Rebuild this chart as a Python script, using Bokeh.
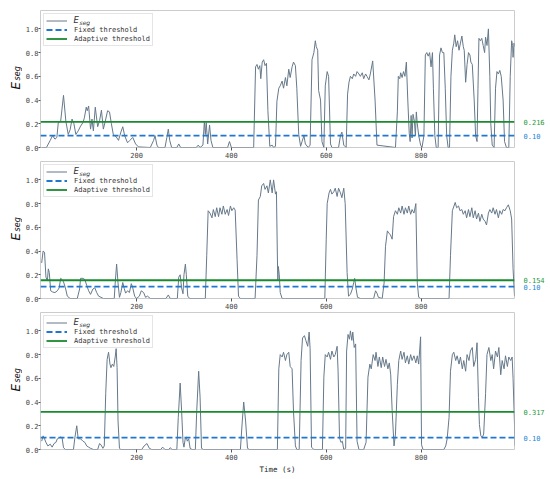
import math
from bokeh.plotting import figure
from bokeh.models import FixedTicker, PrintfTickFormatter, Legend, LegendItem, Label, Range1d
from bokeh.core.properties import value
from bokeh.layouts import column, row
from bokeh.embed import file_html
from bokeh.resources import INLINE

# ---------------- data ----------------
X_START, X_END = -2.5, 997
Y_START, Y_END = 0, 1.155
X_TICKS = [200, 400, 600, 800]
Y_TICKS = [0.0, 0.2, 0.4, 0.6, 0.8, 1.0]

FIXED_THR = 0.10
FIXED_LABEL = "0.10"
ADAPT_THR = [0.216, 0.154, 0.317]
ADAPT_LABELS = ["0.216", "0.154", "0.317"]

T1 = [0, 10, 18, 23, 28, 32, 35, 40, 46, 51, 56, 60, 64, 68, 72, 77, 82, 87, 90, 94, 96, 99,
      103, 106, 109, 113, 118, 122, 126, 130, 134, 139, 143, 147, 151, 157, 162, 167, 171, 175,
      181, 186, 192, 198, 204, 229, 236, 239, 243, 246, 260, 264, 267, 270, 274, 285, 289, 293,
      326, 330, 334, 340, 343, 345, 347, 350, 354, 357, 361, 392, 396, 400, 447, 451, 454, 457,
      460, 462, 465, 468, 471, 474, 477, 481, 486, 489, 493, 496, 500, 503, 507, 510, 514, 517,
      521, 524, 528, 531, 535, 538, 542, 546, 549, 553, 556, 562, 566, 570, 574, 577, 579, 582,
      584, 588, 591, 595, 598, 602, 605, 609, 612, 626, 630, 633, 637, 642, 645, 648, 651, 655,
      658, 662, 665, 669, 672, 676, 679, 683, 686, 690, 693, 698, 703, 707, 746, 750, 752, 755,
      757, 760, 763, 766, 769, 772, 775, 777, 779, 781, 783, 786, 788, 790, 792, 795, 799, 802,
      806, 809, 812, 815, 818, 821, 824, 826, 829, 832, 836, 839, 842, 845, 848, 851, 854, 857,
      860, 863, 866, 869, 871, 874, 877, 880, 883, 886, 889, 891, 894, 897, 900, 903, 905, 908,
      912, 915, 918, 920, 922, 925, 928, 931, 934, 936, 939, 942, 945, 947, 950, 954, 957, 960,
      963, 966, 969, 973, 976, 980, 985, 988, 991, 993, 994, 996, 998]
V1 = [0, 0, 0.06, 0.10, 0.07, 0.085, 0.21, 0.22, 0.44, 0.22, 0.11, 0.15, 0.24, 0.20, 0.11, 0.14,
      0.18, 0.21, 0.25, 0.34, 0.31, 0.35, 0.155, 0.24, 0.14, 0.34, 0.175, 0.225, 0.315, 0.155,
      0.22, 0.31, 0.30, 0.20, 0.11, 0.09, 0.06, 0.13, 0.175, 0.10, 0.04, 0.06, 0.085, 0.03, 0.005,
      0, 0.06, 0.10, 0.02, 0, 0, 0.085, 0.155, 0.06, 0, 0, 0.03, 0, 0, 0.02, 0, 0.02, 0.22, 0.11,
      0.21, 0.03, 0.19, 0.06, 0, 0, 0.05, 0, 0, 0.68, 0.70, 0.66, 0.69, 0.58, 0.72, 0.74, 0.69,
      0.71, 0.31, 0.01, 0.02, 0, 0.01, 0.39, 0.50, 0.52, 0.56, 0.50, 0.59, 0.52, 0.66, 0.59, 0.68,
      0.72, 0.69, 0.50, 0.11, 0.01, 0.05, 0.10, 0.03, 0, 0.02, 0.74, 0.80, 0.90, 0.85, 0.82, 0.48,
      0.40, 0.05, 0, 0.52, 0.64, 0.60, 0.03, 0, 0, 0.10, 0.13, 0.02, 0, 0.45, 0.55, 0.60, 0.58,
      0.62, 0.60, 0.64, 0.62, 0.60, 0.63, 0.58, 0.62, 0.60, 0.57, 0.62, 0.73, 0.40, 0.02, 0, 0.30,
      0.60, 0.58, 0.63, 0.59, 0.64, 0.60, 0.72, 0.40, 0.12, 0.05, 0.27, 0.08, 0.28, 0.22, 0.10,
      0.30, 0.20, 0.10, 0.02, 0, 0.10, 0.78, 0.80, 0.77, 0.80, 0.68, 0.80, 0.50, 0.10, 0, 0, 0.78,
      0.84, 0.80, 0.80, 0.50, 0.10, 0, 0, 0.60, 0.82, 0.88, 0.95, 0.85, 0.90, 0.82, 0.88, 0.94,
      0.85, 0.82, 0.55, 0.70, 0.80, 0.78, 0.72, 0.70, 0.40, 0.10, 0.05, 0.50, 0.92, 0.90, 0.92,
      0.86, 0.80, 0.93, 0.86, 1.00, 0.60, 0.20, 0.02, 0, 0.50, 0.64, 0.62, 0.65, 0.60, 0.40, 0.05,
      0, 0, 0.60, 0.90, 0.86, 0.76, 0.88, 0.85]

T2 = [0, 3, 6, 9, 12, 14, 16, 19, 23, 28, 33, 37, 40, 43, 46, 50, 54, 60, 75, 80, 82, 87, 91,
      95, 99, 103, 108, 112, 116, 120, 125, 130, 153, 155, 158, 161, 164, 167, 171, 174, 177,
      181, 185, 189, 192, 196, 200, 206, 210, 215, 219, 223, 229, 262, 267, 271, 286, 289, 292,
      295, 298, 300, 303, 305, 308, 312, 345, 348, 351, 355, 359, 362, 366, 369, 373, 376, 380,
      383, 387, 391, 394, 398, 401, 405, 408, 412, 415, 419, 450, 454, 457, 461, 464, 468, 471,
      475, 478, 482, 486, 489, 493, 495, 497, 498, 499, 501, 503, 507, 597, 600, 602, 606, 609,
      612, 616, 619, 623, 626, 630, 633, 637, 640, 644, 647, 651, 655, 658, 660, 663, 666, 672,
      700, 704, 707, 710, 718, 722, 725, 729, 732, 735, 739, 742, 746, 750, 753, 757, 760, 764,
      767, 771, 774, 778, 781, 785, 789, 792, 795, 799, 859, 862, 866, 872, 875, 879, 882, 886,
      889, 893, 896, 900, 903, 907, 910, 914, 917, 921, 924, 928, 931, 935, 938, 942, 945, 949,
      952, 956, 959, 963, 966, 970, 973, 977, 980, 984, 988, 991, 994, 997]
V2 = [0.30, 0.40, 0.39, 0.18, 0.15, 0.25, 0.22, 0.065, 0.055, 0.05, 0.065, 0.09, 0.17, 0.16,
      0.14, 0.09, 0.02, 0, 0, 0.08, 0.17, 0.17, 0.16, 0.11, 0.065, 0.035, 0.08, 0.09, 0.05, 0.02,
      0.01, 0, 0, 0.13, 0.29, 0.13, 0.01, 0.05, 0.135, 0.085, 0.045, 0.065, 0.05, 0.125, 0.09,
      0.02, 0, 0.02, 0.065, 0.05, 0.01, 0.02, 0, 0, 0.03, 0, 0, 0.18, 0.20, 0.09, 0.04, 0.20,
      0.29, 0.20, 0.02, 0, 0, 0.36, 0.74, 0.72, 0.68, 0.75, 0.69, 0.765, 0.69, 0.765, 0.71, 0.78,
      0.71, 0.75, 0.70, 0.78, 0.74, 0.765, 0.745, 0.33, 0.02, 0, 0, 0.36, 0.83, 0.86, 0.95, 0.97,
      0.92, 0.95, 0.89, 1.00, 0.89, 1.00, 0.88, 0.90, 0.35, 0.15, 0.27, 0.20, 0.05, 0, 0, 0.50,
      0.80, 0.89, 0.92, 0.88, 0.90, 0.93, 0.86, 0.93, 0.89, 0.85, 0.93, 0.80, 0.22, 0.02, 0.035,
      0.08, 0.135, 0.17, 0.08, 0.01, 0, 0, 0.065, 0.045, 0.01, 0, 0.13, 0.44, 0.57, 0.55, 0.54,
      0.50, 0.69, 0.74, 0.71, 0.765, 0.72, 0.78, 0.71, 0.765, 0.72, 0.78, 0.71, 0.75, 0.72, 0.80,
      0.13, 0.01, 0, 0, 0.36, 0.74, 0.81, 0.765, 0.78, 0.74, 0.75, 0.71, 0.74, 0.68, 0.75, 0.69,
      0.765, 0.68, 0.74, 0.67, 0.72, 0.65, 0.71, 0.67, 0.65, 0.62, 0.72, 0.75, 0.72, 0.765, 0.71,
      0.75, 0.68, 0.74, 0.71, 0.75, 0.74, 0.765, 0.79, 0.74, 0.67, 0.25, 0.02]

T3 = [0, 3, 6, 9, 13, 18, 22, 26, 30, 33, 37, 40, 43, 46, 50, 67, 70, 74, 77, 82, 87, 91, 95,
      99, 103, 109, 118, 122, 125, 129, 132, 135, 138, 141, 144, 146, 149, 152, 155, 157, 159,
      161, 164, 167, 211, 216, 222, 227, 232, 251, 255, 260, 268, 271, 275, 285, 288, 292, 295,
      298, 300, 303, 305, 307, 310, 313, 317, 324, 327, 331, 334, 337, 341, 419, 423, 426, 430,
      434, 438, 497, 500, 503, 507, 510, 514, 517, 521, 524, 528, 531, 535, 538, 543, 547, 550,
      554, 557, 561, 564, 566, 569, 574, 592, 595, 598, 602, 605, 609, 612, 616, 619, 623, 625,
      628, 631, 634, 637, 641, 643, 646, 649, 651, 654, 656, 659, 662, 665, 669, 679, 684, 688,
      692, 695, 699, 703, 705, 709, 712, 716, 719, 723, 726, 730, 733, 736, 739, 743, 746, 750,
      753, 757, 760, 764, 767, 771, 774, 778, 781, 785, 789, 792, 795, 799, 801, 804, 809, 848,
      852, 855, 859, 862, 866, 869, 873, 876, 880, 883, 887, 890, 894, 897, 901, 904, 908, 911,
      915, 918, 921, 923, 926, 929, 932, 936, 939, 943, 947, 950, 953, 957, 961, 964, 968, 971,
      975, 978, 982, 985, 989, 992, 994, 997, 998]
V3 = [0.07, 0.115, 0.09, 0.06, 0.03, 0.045, 0.02, 0.05, 0.06, 0.09, 0.10, 0.105, 0.10, 0.015,
      0, 0, 0.10, 0.20, 0.09, 0.09, 0.07, 0.06, 0.03, 0.02, 0.01, 0, 0, 0.05, 0.04, 0.01, 0.03,
      0.47, 0.76, 0.82, 0.72, 0.69, 0.72, 0.70, 0.78, 0.85, 0.69, 0.24, 0.01, 0, 0, 0.03, 0.05,
      0.01, 0, 0, 0.02, 0, 0, 0.015, 0, 0, 0.27, 0.56, 0.33, 0.06, 0.02, 0.10, 0.105, 0.07, 0.09,
      0.01, 0, 0, 0.33, 0.66, 0.44, 0.01, 0, 0, 0.24, 0.40, 0.24, 0.01, 0, 0, 0.68, 0.80, 0.78,
      0.82, 0.75, 0.80, 0.82, 0.70, 0.68, 0.32, 0.03, 0, 0, 0.75, 0.94, 0.96, 0.92, 0.87, 0.99,
      0.85, 0.02, 0, 0, 0.61, 0.80, 0.78, 0.82, 0.76, 0.83, 0.78, 0.80, 0.87, 0.66, 0.10, 0.06,
      0.07, 0, 0.01, 0.83, 0.97, 0.93, 1.00, 0.92, 0.99, 0.86, 0.89, 0.07, 0, 0, 0.06, 0.61, 0.72,
      0.68, 0.80, 0.75, 0.82, 0.70, 0.78, 0.69, 0.78, 0.70, 0.76, 0.68, 0.73, 0.63, 0.33, 0.03,
      0.13, 0.55, 0.75, 0.83, 0.76, 0.82, 0.73, 0.79, 0.72, 0.80, 0.75, 0.79, 0.73, 0.79, 0.72,
      0.95, 0.04, 0, 0, 0, 0.03, 0.09, 0.27, 0.66, 0.80, 0.82, 0.75, 0.79, 0.72, 0.78, 0.68, 0.75,
      0.66, 0.80, 0.75, 0.83, 0.86, 0.70, 0.76, 0.90, 0.44, 0.21, 0.115, 0.10, 0.13, 0.47, 0.80,
      0.86, 0.75, 0.80, 0.68, 0.83, 0.78, 0.86, 0.63, 0.75, 0.68, 0.79, 0.70, 0.78, 0.75, 0.78,
      0.60, 0.21, 0.03]

SERIES = [(T1, V1), (T2, V2), (T3, V3)]

# ---------------- style ----------------
MONO = "DejaVu Sans Mono"
SANS = "DejaVu Sans"
SIG_COLOR = "#66798a"
BLUE = "#1f77d0"
GREEN = "#1a8a2e"
FRAME_W, FRAME_H = 474, 137
LEFT_W, RIGHT_W = 22, 36
PX_X = FRAME_W / (X_END - X_START)
PX_Y = FRAME_H / (Y_END - Y_START)
TOPS = [10, 1, 1]


def make_row(t, v, thr, thr_label, idx):
    last = idx == len(SERIES) - 1
    top = TOPS[idx]
    bottom = 28 if last else 13
    yr = Range1d(Y_START, Y_END)
    common = dict(title=None, frame_height=FRAME_H, y_range=yr, output_backend="svg",
                  toolbar_location=None, min_border_top=top, min_border_bottom=bottom,
                  background_fill_color="white", border_fill_color="white")

    # ---- left strip: rotated y label E_seg ----
    left = figure(frame_width=LEFT_W, x_range=(0, LEFT_W), min_border_left=0,
                  min_border_right=0, x_axis_location=None, y_axis_location=None, **common)
    left.grid.visible = False
    left.outline_line_color = None
    ey = 0.49
    left.text(x=[15], y=[ey], text=["E"], angle=math.pi / 2,
              text_font=value(SANS), text_font_style="italic", text_font_size="12px",
              text_baseline="alphabetic", text_align="left", text_color="#111111")
    left.text(x=[17], y=[ey + 9 / PX_Y], text=["seg"], angle=math.pi / 2,
              text_font=value(SANS), text_font_style="italic", text_font_size="8px",
              text_baseline="alphabetic", text_align="left", text_color="#111111")

    # ---- main panel ----
    p = figure(frame_width=FRAME_W, x_range=(X_START, X_END), min_border_left=15,
               min_border_right=1, **common)
    p.outline_line_color = "#cccccc"
    p.outline_line_width = 1
    p.grid.visible = False

    p.xaxis.ticker = FixedTicker(ticks=X_TICKS)
    p.yaxis.ticker = FixedTicker(ticks=Y_TICKS)
    p.yaxis.formatter = PrintfTickFormatter(format="%.1f")
    for ax in (p.xaxis, p.yaxis):
        ax.axis_line_color = None
        ax.major_tick_line_color = "#555555"
        ax.major_tick_in = 0
        ax.minor_tick_line_color = None
        ax.major_label_text_font = MONO
        ax.major_label_text_font_size = "7px"
        ax.major_label_text_color = "#444444"
    p.xaxis.major_tick_out = 3
    p.yaxis.major_tick_out = 2
    p.xaxis.major_label_standoff = 1
    p.yaxis.major_label_standoff = 0
    if last:
        p.xaxis.axis_label = "Time (s)"
        p.xaxis.axis_label_text_font = MONO
        p.xaxis.axis_label_text_font_size = "7.5px"
        p.xaxis.axis_label_text_font_style = "normal"
        p.xaxis.axis_label_text_color = "#222222"
        p.xaxis.axis_label_standoff = 2

    r_sig = p.line(t, v, line_color=SIG_COLOR, line_width=1.0)
    r_fix = p.line([X_START, X_END], [FIXED_THR, FIXED_THR], line_color=BLUE,
                   line_width=1.8, line_dash="6 3")
    r_ad = p.line([X_START, X_END], [thr, thr], line_color=GREEN, line_width=1.8)

    legend = Legend(items=[LegendItem(label=" ", renderers=[r_sig]),
                           LegendItem(label="Fixed threshold", renderers=[r_fix]),
                           LegendItem(label="Adaptive threshold", renderers=[r_ad])],
                    location="top_left", margin=3, padding=2, spacing=0,
                    label_height=9, glyph_height=9, glyph_width=21, label_standoff=7,
                    label_text_font=MONO, label_text_font_size="7px",
                    label_text_color="#333333",
                    border_line_color="#cccccc", border_line_width=1,
                    background_fill_alpha=0.0)
    p.add_layout(legend)

    # subscripted legend label E_seg
    lx = X_START + (3 + 2 + 21 + 7) / PX_X
    ly = Y_END - (3 + 2 + 4.5) / PX_Y
    p.add_layout(Label(x=lx, y=ly, text="E", text_font=SANS, text_font_style="italic",
                       text_font_size="8.5px", text_baseline="middle", text_color="#333333",
                       level="overlay"))
    p.add_layout(Label(x=lx + 6 / PX_X, y=ly - 2.5 / PX_Y, text="seg", text_font=SANS,
                       text_font_style="italic", text_font_size="6px",
                       text_baseline="middle", text_color="#333333", level="overlay"))

    # ---- right strip: threshold values ----
    right = figure(frame_width=RIGHT_W, x_range=(0, RIGHT_W), min_border_left=0,
                   min_border_right=0, x_axis_location=None, y_axis_location=None, **common)
    right.grid.visible = False
    right.outline_line_color = None
    right.text(x=[8], y=[thr], text=[thr_label], text_font=value(MONO),
               text_font_size="7px", text_baseline="middle", text_color="#22993a")
    right.text(x=[8], y=[FIXED_THR], text=[FIXED_LABEL], text_font=value(MONO),
               text_font_size="7px", text_baseline="middle", text_color="#1a86d6")

    return row(left, p, right, spacing=0)


rows = []
for i, (t, v) in enumerate(SERIES):
    rows.append(make_row(t, v, ADAPT_THR[i], ADAPT_LABELS[i], i))

layout = column(*rows, spacing=0)
open("out.html", "w").write(file_html(layout, INLINE, "E_seg thresholds"))
